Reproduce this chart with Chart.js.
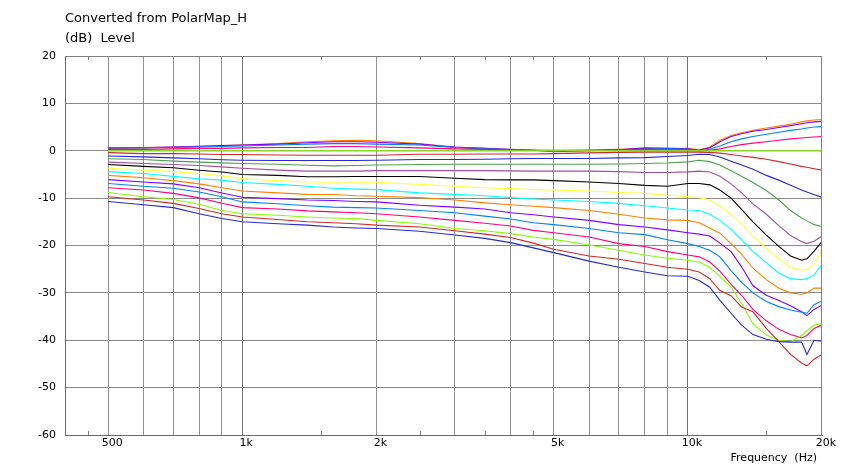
<!DOCTYPE html>
<html><head><meta charset="utf-8">
<script src="https://cdn.jsdelivr.net/npm/chart.js@4"></script>
<style>html,body{margin:0;padding:0;background:#fff;}#wrap{width:844px;height:469px;position:relative;}</style>
</head><body><div id="wrap"><canvas id="c" width="844" height="469"></canvas></div>
<script>
// ---- data ----
const chartTitle = 'Converted from PolarMap_H';
const yAxisTitle = '(dB)  Level';
const xAxisTitle = 'Frequency  (Hz)';
const freqs = [500,600,700,800,900,1000,1200,1400,1600,1800,2000,2500,3000,3500,4000,4500,5000,6000,7000,8000,9000,10000,10600,11200,11800,12500,13200,14000,15000,16000,17000,18000,18500,19200,20000];
const xTickValues = [500,600,700,800,900,1000,2000,3000,4000,5000,6000,7000,8000,9000,10000,20000];
const xTickLabels = {500:'500',1000:'1k',2000:'2k',5000:'5k',10000:'10k',20000:'20k'};
const xMinorTicks = [450,1500,2500,3500,4500,15000];
const yTickValues = [20,10,0,-10,-20,-30,-40,-50,-60];

const sOrangeTop = [0.5,0.6,0.8,1.0,1.1,1.2,1.5,1.9,2.1,2.2,2.1,1.5,0.7,0.5,0.2,0.1,0.0,0.1,0.3,0.5,0.5,0.5,0.2,0.8,2.2,3.2,3.8,4.3,4.8,5.2,5.6,6.1,6.3,6.5,6.6];
const sVioletTop = [0.6,0.7,0.8,0.9,1.1,1.2,1.4,1.7,1.9,1.9,1.8,1.4,0.8,0.5,0.3,0.1,-0.2,0.0,0.2,0.6,0.5,0.4,0.1,0.6,1.9,3.0,3.6,4.1,4.5,4.9,5.3,5.7,5.9,6.1,6.2];
const sAzureTop = [0.6,0.6,0.7,0.8,0.9,1.0,1.2,1.4,1.5,1.5,1.4,1.2,0.7,0.4,0.2,0.1,0.0,0.1,0.2,0.3,0.4,0.3,0.0,0.3,1.0,1.9,2.5,3.0,3.5,3.9,4.3,4.6,4.8,5.0,5.1];
const sRoseTop = [0.3,0.3,0.4,0.5,0.5,0.6,0.7,0.7,0.9,0.9,0.8,0.6,0.4,0.3,0.2,0.1,0.1,0.1,0.2,0.2,0.2,0.2,0.0,0.1,0.4,0.9,1.3,1.6,1.9,2.2,2.5,2.7,2.8,2.9,3.0];
const sLimeRef = [0,0,0,0,0,0,0,0,0,0,0,0,0,0,0,0,0,0,0,0,0,0,0,0,0,0,0,0,0,0,0,0,0,0,0];
const sMauveRef = [0,0,0,0,0,0,0,0,0,0,0,0,0,0,0,0,0,0,0,0,0,0,0,0,0,0,0,0,0,0,0,0,0,0,0];
const sRed1 = [-0.4,-0.6,-0.6,-0.7,-0.8,-0.8,-0.9,-0.95,-0.95,-0.95,-0.95,-0.75,-0.75,-0.7,-0.7,-0.7,-0.6,-0.45,-0.35,-0.3,-0.3,-0.3,-0.3,-0.35,-0.5,-0.8,-1.1,-1.4,-1.8,-2.3,-2.8,-3.3,-3.5,-3.8,-4.1];
const sBlue1 = [-1.1,-1.3,-1.5,-1.7,-1.9,-2.0,-2.05,-2.07,-2.07,-2.07,-2.0,-1.86,-1.86,-1.8,-1.7,-1.65,-1.65,-1.65,-1.5,-1.45,-1.2,-1.0,-0.75,-0.8,-1.3,-2.2,-3.0,-3.9,-5.2,-6.2,-7.3,-8.3,-8.7,-9.3,-9.8];
const sGreen = [-1.7,-1.85,-2.2,-2.4,-2.55,-2.7,-2.85,-3.05,-3.2,-3.1,-3.0,-2.9,-2.85,-2.85,-2.85,-2.85,-2.85,-2.85,-2.8,-2.7,-2.6,-2.35,-2.0,-2.3,-3.0,-4.2,-5.4,-6.7,-8.4,-10.4,-12.6,-14.2,-14.8,-15.6,-16.0];
const sMauve = [-2.4,-2.7,-2.9,-3.1,-3.4,-3.7,-4.1,-4.3,-4.3,-4.3,-4.2,-4.2,-4.2,-4.2,-4.25,-4.3,-4.3,-4.3,-4.4,-4.6,-4.6,-4.45,-4.3,-4.5,-5.4,-7.0,-8.9,-11.2,-13.4,-15.8,-17.9,-19.2,-19.6,-19.1,-18.0];
const sBlack = [-2.9,-3.3,-3.6,-4.1,-4.5,-5.0,-5.2,-5.5,-5.5,-5.45,-5.45,-5.45,-5.8,-6.1,-6.15,-6.15,-6.3,-6.6,-6.9,-7.3,-7.5,-6.9,-6.9,-7.2,-8.3,-10.0,-12.4,-15.0,-17.8,-20.2,-22.2,-23.1,-22.8,-21.2,-19.2];
const sYellow = [-3.7,-4.1,-4.4,-4.8,-5.3,-5.9,-6.3,-6.6,-6.65,-6.65,-6.65,-7.1,-7.5,-7.8,-8.0,-8.2,-8.3,-8.5,-8.8,-9.0,-9.4,-9.7,-9.9,-10.4,-11.7,-13.4,-15.5,-18.0,-20.6,-22.8,-24.6,-25.2,-25.1,-24.0,-21.0];
const sCyan = [-4.4,-4.8,-5.4,-5.9,-6.2,-6.7,-7.1,-7.5,-7.9,-8.1,-8.2,-8.9,-9.2,-9.5,-9.9,-10.2,-10.4,-10.7,-11.1,-11.6,-12.1,-12.5,-12.6,-13.4,-14.7,-16.6,-18.8,-21.3,-23.6,-25.8,-27.0,-27.2,-27.0,-26.2,-24.0];
const sOrange = [-5.2,-5.7,-6.3,-7.0,-7.8,-8.5,-8.9,-9.2,-9.25,-9.5,-9.6,-9.9,-10.4,-11.0,-11.4,-11.7,-12.0,-12.6,-13.4,-14.2,-14.6,-14.7,-15.2,-16.3,-17.4,-19.6,-21.8,-24.8,-27.2,-29.0,-30.0,-30.3,-30.0,-29.0,-29.0];
const sViolet = [-6.1,-6.6,-7.0,-7.8,-8.9,-9.8,-10.1,-10.4,-10.5,-10.7,-10.8,-11.5,-11.9,-12.3,-13.1,-13.5,-14.0,-14.7,-15.6,-16.1,-16.7,-17.3,-17.6,-18.0,-19.5,-21.3,-24.5,-28.5,-30.5,-31.6,-32.7,-34.0,-34.8,-33.5,-32.6];
const sAzure = [-6.9,-7.5,-7.9,-8.7,-9.7,-10.8,-11.2,-11.6,-11.9,-12.0,-12.1,-12.6,-13.1,-13.8,-14.4,-15.2,-15.6,-16.4,-17.3,-17.7,-18.8,-19.6,-20.2,-21.0,-22.4,-25.3,-27.8,-30.0,-31.8,-32.9,-33.6,-34.1,-34.3,-32.5,-31.7];
const sRose = [-7.8,-8.3,-9.0,-9.95,-11.1,-12.0,-12.3,-12.7,-12.9,-13.1,-13.3,-14.0,-14.7,-15.3,-15.9,-16.8,-17.3,-18.2,-19.6,-20.2,-21.3,-22.0,-22.4,-23.5,-25.4,-28.2,-30.5,-33.5,-35.9,-37.7,-38.8,-39.5,-39.0,-37.5,-36.8];
const sLime = [-8.8,-9.7,-10.3,-11.3,-12.6,-13.3,-13.6,-14.0,-14.2,-14.3,-14.7,-15.4,-16.4,-16.9,-17.5,-18.2,-18.7,-19.9,-21.0,-22.0,-22.7,-23.1,-23.5,-24.6,-26.5,-28.8,-32.2,-36.5,-38.9,-40.0,-40.3,-39.0,-38.0,-36.8,-36.5];
const sRed2 = [-9.7,-10.4,-11.1,-12.2,-13.3,-14.0,-14.5,-15.0,-15.2,-15.4,-15.7,-16.1,-16.9,-17.6,-18.3,-19.5,-20.8,-22.2,-22.9,-23.8,-24.6,-25.0,-25.6,-27.0,-29.5,-30.6,-33.0,-34.0,-37.5,-40.3,-43.0,-44.8,-45.4,-44.0,-43.0];
const sBlue2 = [-10.7,-11.4,-12.0,-13.3,-14.3,-15.0,-15.4,-15.7,-16.1,-16.3,-16.4,-17.0,-17.8,-18.5,-19.4,-20.5,-21.5,-23.3,-24.6,-25.6,-26.4,-26.5,-27.4,-28.8,-31.6,-34.3,-36.8,-38.8,-39.8,-40.3,-40.4,-40.4,-43.0,-40.0,-40.2];

const seriesList = [sOrangeTop,sVioletTop,sAzureTop,sRoseTop,sMauveRef,sLimeRef,sRed1,sBlue1,sGreen,sMauve,sBlack,sYellow,sCyan,sOrange,sViolet,sAzure,sRose,sLime,sRed2,sBlue2];
const seriesColors = ['#ff8000','#8000ff','#0080ff','#ff0080','#a050a0','#80ff00','#d02828','#2828d0','#50a050','#a050a0','#000000','#ffff40','#00ffff','#ff8000','#8000ff','#0080ff','#ff0080','#80ff00','#d02828','#2828d0'];

// ---- chart ----
const FONT = '"DejaVu Sans", Verdana, sans-serif';
const datasets = seriesList.map((s, i) => ({
  data: freqs.map((f, j) => ({x: f, y: s[j]})),
  borderColor: seriesColors[i],
  borderWidth: 1.1,
  pointRadius: 0,
  tension: 0,
  fill: false,
  order: seriesList.length - i
}));

const decor = {
  id: 'decor',
  afterDraw(chart) {
    const {ctx, chartArea: a, scales: {x}} = chart;
    ctx.save();
    ctx.strokeStyle = '#808080';
    ctx.lineWidth = 1;
    ctx.beginPath();
    ctx.moveTo(a.left, a.top + 0.5); ctx.lineTo(a.right, a.top + 0.5);
    ctx.moveTo(Math.round(a.right) - 0.5, a.top); ctx.lineTo(Math.round(a.right) - 0.5, a.bottom);
    xMinorTicks.forEach(v => {
      const px = Math.round(x.getPixelForValue(v)) + 0.5;
      ctx.moveTo(px, a.bottom); ctx.lineTo(px, a.bottom - 4);
      ctx.moveTo(px, a.top); ctx.lineTo(px, a.top + 4);
    });
    ctx.stroke();
    ctx.fillStyle = '#000';
    ctx.font = '13px ' + FONT;
    ctx.textBaseline = 'middle';
    ctx.textAlign = 'left';
    ctx.fillText(chartTitle, 65, 19);
    ctx.fillText(yAxisTitle, 65, 39);
    ctx.font = '11px ' + FONT;
    ctx.textAlign = 'right';
    ctx.fillText(xAxisTitle, 817, 458);
    ctx.restore();
  }
};

new Chart(document.getElementById('c'), {
  type: 'line',
  data: {datasets},
  options: {
    responsive: false,
    animation: false,
    devicePixelRatio: 1,
    layout: {padding: {top: 56, right: 22, left: 0, bottom: 0}},
    plugins: {legend: {display: false}, tooltip: {enabled: false}, title: {display: false}},
    scales: {
      x: {
        type: 'logarithmic',
        min: 400, max: 20000,
        afterBuildTicks: s => { s.ticks = xTickValues.map(v => ({value: v})); },
        afterFit: s => { s.height = 34; },
        ticks: {
          autoSkip: false, maxRotation: 0, minRotation: 0, padding: 2, labelOffset: 4,
          color: '#000', font: {family: FONT, size: 11},
          callback: v => xTickLabels[v] || ''
        },
        grid: {
          drawTicks: false,
          color: c => (c.tick && (c.tick.value === 1000 || c.tick.value === 10000)) ? '#707070' : (c.tick && c.tick.value === 20000 ? 'rgba(0,0,0,0)' : '#929292'),
          lineWidth: 1
        },
        border: {display: true, color: '#6a6a6a', width: 1}
      },
      y: {
        type: 'linear',
        min: -60, max: 20,
        afterBuildTicks: s => { s.ticks = yTickValues.map(v => ({value: v})); },
        afterFit: s => { s.width = 65; },
        ticks: {padding: 9, color: '#000', font: {family: FONT, size: 11}},
        grid: {drawTicks: false, color: '#8a8a8a', lineWidth: 1},
        border: {display: true, color: '#6a6a6a', width: 1}
      }
    }
  },
  plugins: [decor]
});
</script></body></html>
